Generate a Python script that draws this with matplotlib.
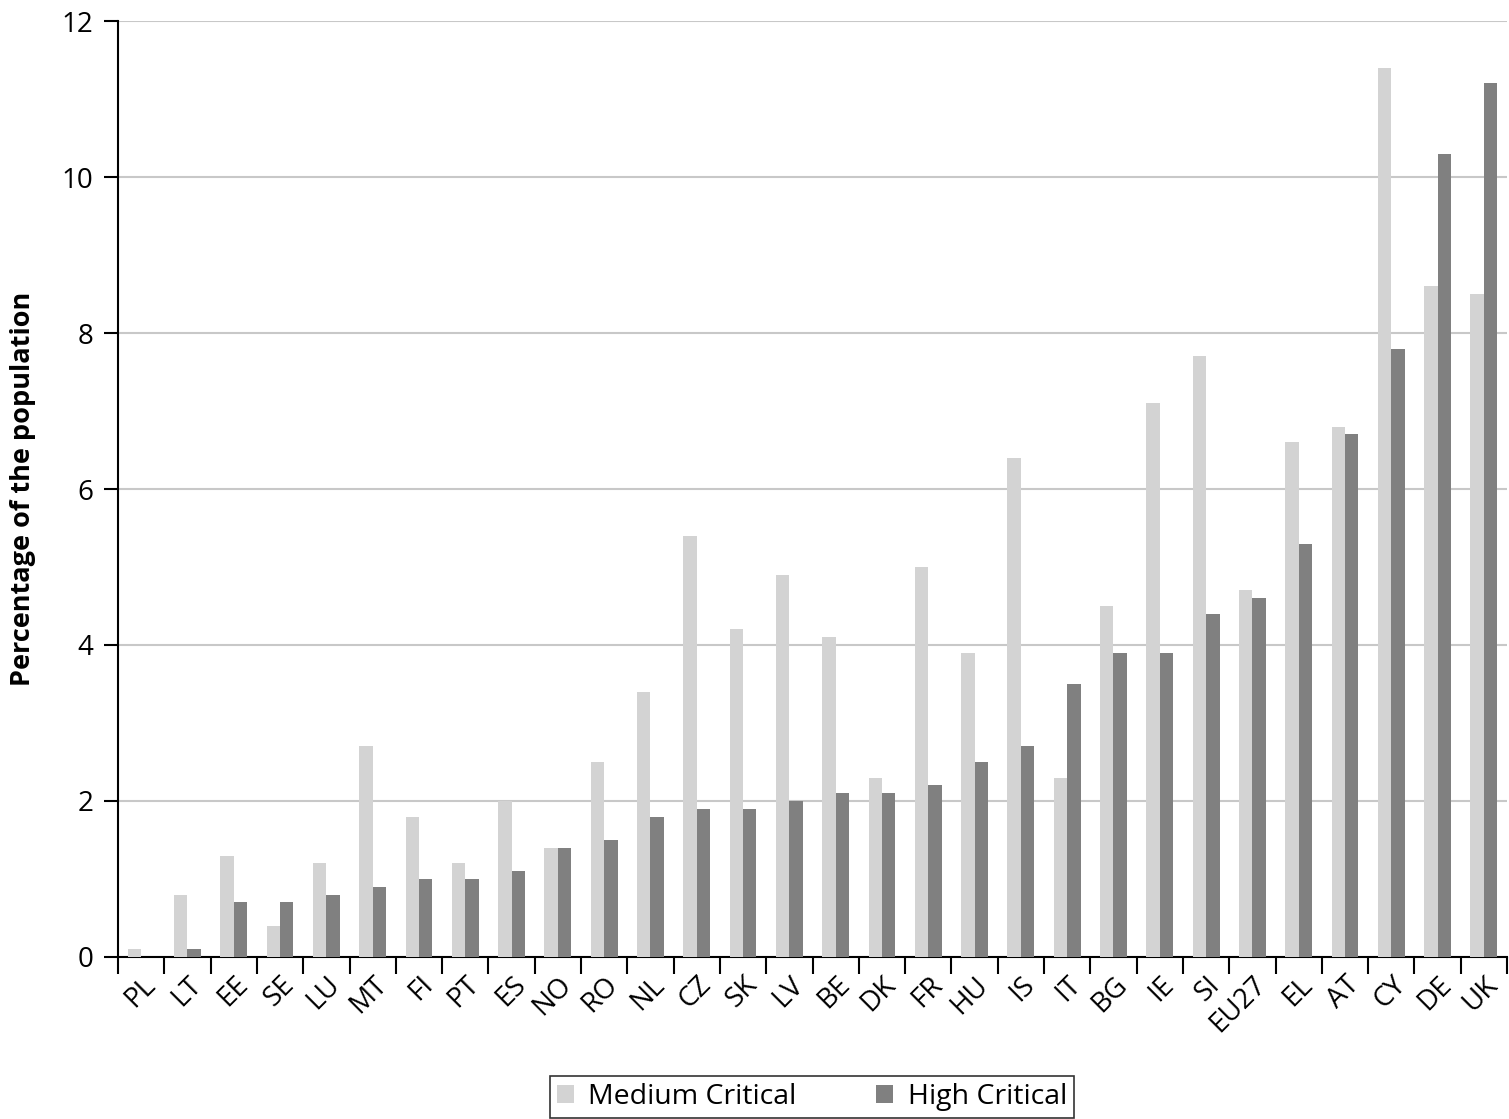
import numpy as np
import matplotlib
matplotlib.use("Agg")
import matplotlib.pyplot as plt

plt.rcParams['font.family'] = ['Open Sans', 'DejaVu Sans']

countries = ['PL', 'LT', 'EE', 'SE', 'LU', 'MT', 'FI', 'PT', 'ES', 'NO',
             'RO', 'NL', 'CZ', 'SK', 'LV', 'BE', 'DK', 'FR', 'HU', 'IS',
             'IT', 'BG', 'IE', 'SI', 'EU27', 'EL', 'AT', 'CY', 'DE', 'UK']
medium = [0.1, 0.8, 1.3, 0.4, 1.2, 2.7, 1.8, 1.2, 2.0, 1.4,
          2.5, 3.4, 5.4, 4.2, 4.9, 4.1, 2.3, 5.0, 3.9, 6.4,
          2.3, 4.5, 7.1, 7.7, 4.7, 6.6, 6.8, 11.4, 8.6, 8.5]
high = [0.0, 0.1, 0.7, 0.7, 0.8, 0.9, 1.0, 1.0, 1.1, 1.4,
        1.5, 1.8, 1.9, 1.9, 2.0, 2.1, 2.1, 2.2, 2.5, 2.7,
        3.5, 3.9, 3.9, 4.4, 4.6, 5.3, 6.7, 7.8, 10.3, 11.2]

light = '#d3d3d3'
dark = '#808080'

fig = plt.figure(figsize=(15.09, 11.19), dpi=100)
ax = fig.add_axes([0.0782, 0.1448, 0.9205, 0.8364])

x = np.arange(len(countries))
w = 0.29
ax.bar(x - w/2, medium, w, color=light, label='Medium Critical', zorder=3)
ax.bar(x + w/2, high, w, color=dark, label='High Critical', zorder=3)

ax.set_xlim(-0.5, len(countries) - 0.5)
ax.set_ylim(0, 12)
ax.set_yticks(range(0, 13, 2))
ax.yaxis.grid(True, color='#c8c8c8', linewidth=1.5, zorder=0)
ax.set_axisbelow(True)

# category labels between boundary ticks
ax.set_xticks(x)
ax.set_xticklabels(countries, rotation=45, ha='right', rotation_mode='anchor', fontsize=20)
ax.tick_params(axis='x', length=0, pad=10)
ax.set_xticks(np.arange(-0.5, len(countries)), minor=True)
ax.tick_params(axis='x', which='minor', length=12, width=1.5, direction='out')
ax.tick_params(axis='y', length=10, width=1.5, direction='out', labelsize=20, pad=8)

for s in ['top', 'right']:
    ax.spines[s].set_visible(False)
ax.spines['left'].set_linewidth(1.5)
ax.spines['bottom'].set_linewidth(1.5)

ax.set_ylabel('Percentage of the population', fontsize=19.5, fontweight='bold', labelpad=18)

leg = fig.legend(loc='center', bbox_to_anchor=(0.538, 0.0197), ncol=2,
                 fontsize=20.5, frameon=True, fancybox=False, edgecolor='black',
                 handlelength=0.6, handleheight=0.6, columnspacing=2.8,
                 borderpad=0.25, handletextpad=0.5)
leg.get_frame().set_linewidth(1.2)

fig.savefig('out.png', dpi=100)
